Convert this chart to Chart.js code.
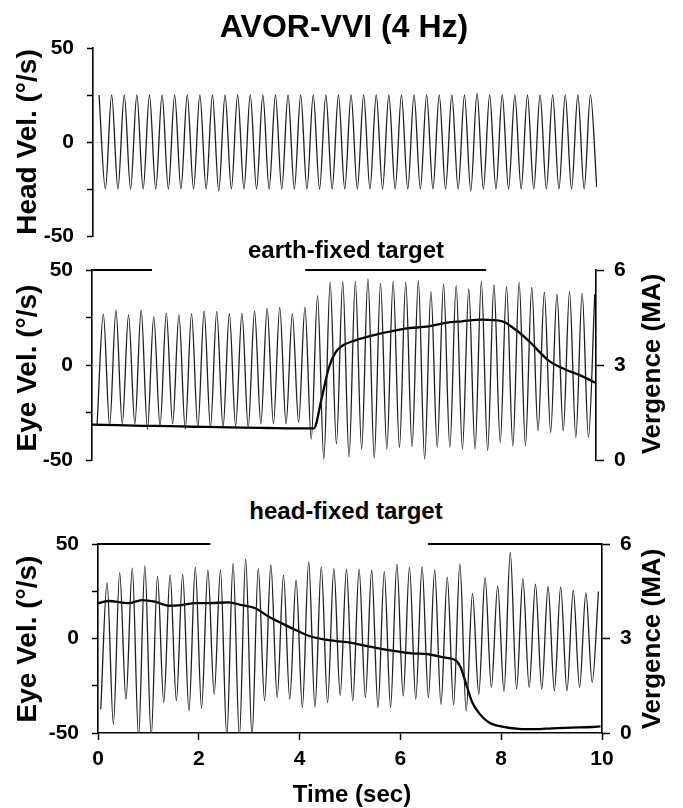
<!DOCTYPE html>
<html>
<head>
<meta charset="utf-8">
<script src="https://cdn.jsdelivr.net/npm/chart.js@4.4.1/dist/chart.umd.min.js"></script>
<style>
body { margin: 0; background: #fff; width: 683px; height: 808px; position: relative; overflow: hidden;
       font-family: "Liberation Sans", Arial, sans-serif; font-weight: bold; color: #000; }
canvas { position: absolute; left: 0; }
.lbl { position: absolute; white-space: nowrap; transform: translate(-50%, -50%); }
.rot { transform: translate(-50%, -50%) rotate(-90deg); }
</style>
</head>
<body>
<canvas id="head" width="683" height="216" style="top:34px"></canvas>
<canvas id="earth" width="683" height="218" style="top:256px"></canvas>
<canvas id="fixed" width="683" height="278" style="top:530px"></canvas>

<div class="lbl" style="left:344px;top:26px;font-size:32px">AVOR-VVI (4 Hz)</div>
<div class="lbl rot" style="left:27px;top:142px;font-size:28px">Head Vel. (°/s)</div>
<div class="lbl" style="left:346px;top:250px;font-size:24px">earth-fixed target</div>
<div class="lbl rot" style="left:27px;top:368px;font-size:28px">Eye Vel. (°/s)</div>
<div class="lbl rot" style="left:651px;top:364px;font-size:26px">Vergence (MA)</div>
<div class="lbl" style="left:346px;top:511px;font-size:24px">head-fixed target</div>
<div class="lbl rot" style="left:27px;top:639px;font-size:28px">Eye Vel. (°/s)</div>
<div class="lbl rot" style="left:651px;top:639px;font-size:26px">Vergence (MA)</div>
<div class="lbl" style="left:352px;top:794px;font-size:24px">Time (sec)</div>

<script>
// one extremum every 1/8 s (4 Hz rotation)
const halfPeriod = 0.125;

// head velocity: first peak time, then peaks / troughs (deg/s)
const headT0 = 0.12;
const headPeaks = [25, 25, 25, 25, 25, 25, 25, 25, 25, 25,
                   25, 25, 25, 25, 25, 25, 25, 25, 25, 25,
                   25, 25, 25, 25, 25, 25, 25, 25, 25, 25,
                   26, 25, 25, 25, 25, 25, 25, 25, 25, 25];
const headTroughs = [-25, -25, -25, -25, -25, -25, -25, -25, -25, -26,
                     -25, -25, -25, -25, -25, -25, -25, -25, -25, -25,
                     -25, -25, -25, -25, -25, -25, -25, -25, -25, -26,
                     -25, -25, -25, -25, -25, -25, -25, -25, -25, -24];

// earth-fixed target: eye velocity, first trough time, troughs / peaks
const earthT0 = 0.1;
const earthTroughs = [-32, -32, -31, -31, -33.8, -32, -31, -33.8, -33, -33,
                      -33, -32, -33, -31, -31, -31, -30.3, -39, -49.5, -41.6,
                      -48.4, -44.2, -49, -44.2, -43.4, -43, -49.5, -43.4, -43.4, -44.2,
                      -44.2, -45, -40.8, -42.5, -42.5, -34.6, -35.5, -34.6, -38.1, -38.1];
const earthPeaks = [26.8, 28.9, 26.4, 29, 25.5, 27.3, 26.4, 27, 28.5, 28.2,
                    27.1, 27.3, 28.5, 29.9, 30.3, 27, 30.5, 36.4, 43.5, 43.9,
                    43.9, 45.3, 43, 43.9, 43.5, 44.2, 38.6, 42.5, 41.8, 40,
                    43.9, 42.1, 41.3, 43.5, 40.8, 38.3, 37.3, 38.6, 37.8, 37.3];
const earthVergTime = [0, 0.5, 1, 1.5, 2, 2.5, 3, 3.5, 4, 4.4, 4.56, 4.7, 4.83, 4.96, 5.21,
                       5.69, 6.22, 6.68, 7.01, 7.34, 7.74, 8.14, 8.4, 8.66, 9.06, 9.39, 9.72, 9.92, 9.99];
const earthVerg = [1.12, 1.1, 1.08, 1.07, 1.05, 1.04, 1.02, 1.01, 1.0, 1.0, 1.97, 2.92, 3.39, 3.6, 3.77,
                   3.98, 4.15, 4.22, 4.33, 4.38, 4.43, 4.38, 4.12, 3.77, 3.14, 2.86, 2.65, 2.49, 2.44];
const earthBars = [[0, 1.19], [4.23, 7.82]];

// head-fixed target (-52 = saccade running off scale)
const fixedT0 = 0.055;
const fixedTroughs = [-37.4, -45.3, -32.1, -52, -52, -33.9, -32.9, -38.3, -36.9, -29.5,
                      -52, -52, -52, -32.9, -31.2, -32.1, -36.5, -36.2, -33.9, -30,
                      -33, -31.2, -36.5, -36.5, -30.4, -32.1, -31.2, -34.8, -35, -38.3,
                      -29.5, -25.9, -28, -26.8, -25.9, -26.8, -27.7, -27.7, -25.9, -23.3];
const fixedPeaks = [29.6, 34.9, 37.2, 38.4, 32.8, 33.7, 33.9, 37.6, 36.3, 36.3,
                    39.7, 42, 37, 38.9, 33.5, 31, 40.5, 37.9, 37, 36.7,
                    36.7, 36.1, 35.4, 39.3, 37.6, 37.9, 36.1, 32.3, 39.3, 23.8,
                    32.3, 27.8, 45.5, 31.7, 28.7, 27.5, 27.3, 25.6, 24.3, 24.9];
const fixedVergTime = [0, 0.21, 0.61, 0.87, 1.13, 1.4, 1.66, 1.93, 2.19, 2.59, 2.85, 3.12, 3.39, 3.65,
                       3.92, 4.19, 4.45, 4.72, 5.0, 5.24, 5.57, 5.9, 6.23, 6.56, 6.89, 7.09, 7.19, 7.29,
                       7.42, 7.56, 7.75, 8.02, 8.35, 8.68, 9.01, 9.41, 9.8, 9.97];
const fixedVerg = [4.12, 4.19, 4.12, 4.22, 4.17, 4.04, 4.06, 4.12, 4.12, 4.15, 4.06, 3.96, 3.69, 3.48,
                   3.27, 3.08, 2.98, 2.92, 2.87, 2.79, 2.69, 2.6, 2.53, 2.5, 2.39, 2.32, 2.1, 1.63,
                   0.99, 0.63, 0.34, 0.2, 0.13, 0.12, 0.15, 0.17, 0.19, 0.21];
const fixedBars = [[0, 2.23], [6.55, 10]];

const eyeTicks = [-50, 0, 50];
const vergTicks = [0, 3, 6];
const timeTicks = [0, 2, 4, 6, 8, 10];

function wave(t0, first, second) {
    const pts = [];
    first.forEach((v, i) => {
        pts.push({x: t0 + 2 * i * halfPeriod, y: v});
        if (i < second.length) pts.push({x: t0 + (2 * i + 1) * halfPeriod, y: second[i]});
    });
    return pts;
}

function pairs(xs, ys) {
    return xs.map((x, i) => ({x: x, y: ys[i]}));
}

const tickFont = {family: '"Liberation Sans", Arial, sans-serif', size: 21, weight: 'bold'};

function traceSet(points) {
    return {data: points, borderColor: '#1e1e1e', borderWidth: 1.3, pointRadius: 0,
            cubicInterpolationMode: 'monotone', yAxisID: 'y'};
}

function vergSet(points) {
    return {data: points, borderColor: '#000', borderWidth: 2.3, pointRadius: 0,
            cubicInterpolationMode: 'monotone', yAxisID: 'y2'};
}

function barSets(bars) {
    return bars.map(b => ({data: [{x: b[0], y: 50}, {x: b[1], y: 50}], borderColor: '#000',
                           borderWidth: 2, pointRadius: 0, clip: false, yAxisID: 'y'}));
}

// fixed width, and no extra room above/below for the end labels
function pinWidth(w) {
    return s => { s.width = w; s.paddingTop = 0; s.paddingBottom = 0; };
}

function eyeAxis(leftW) {
    return {
        type: 'linear', position: 'left', min: -50, max: 50,
        afterFit: pinWidth(leftW),
        ticks: {stepSize: 25, color: '#000', font: tickFont, padding: 13,
                callback: v => (eyeTicks.includes(v) ? v : '')},
        grid: {color: c => (c.tick && c.tick.value === 0 ? '#999' : 'rgba(0,0,0,0)'),
               tickColor: '#000', tickLength: 6, tickWidth: 1.5, lineWidth: 1},
        border: {color: '#000', width: 1.6, dash: [1, 2]}
    };
}

function vergAxis(rightW) {
    return {
        type: 'linear', position: 'right', min: 0, max: 6,
        afterFit: pinWidth(rightW),
        ticks: {stepSize: 3, color: '#000', font: tickFont, padding: 10,
                callback: v => (vergTicks.includes(v) ? v : '')},
        grid: {drawOnChartArea: false, color: '#000', tickColor: '#000', tickLength: 8, tickWidth: 1.5},
        border: {color: '#000', width: 1.6}
    };
}

function timeAxis(show) {
    const axis = {
        type: 'linear', min: 0, max: 10, display: show,
        ticks: {stepSize: 2, color: '#000', font: tickFont, padding: 7,
                callback: v => (timeTicks.includes(v) ? v : '')},
        grid: {drawOnChartArea: false, color: '#000', tickColor: '#000', tickLength: 7, tickWidth: 1.5},
        border: {color: '#000', width: 1.6}
    };
    if (show) axis.afterFit = s => { s.height = 75; };
    return axis;
}

const base = {
    responsive: false,
    animation: false,
    events: [],
    plugins: {legend: {display: false}, tooltip: {enabled: false}}
};

new Chart(document.getElementById('head'), {
    type: 'line',
    data: {datasets: [traceSet(wave(headT0, headPeaks, headTroughs))]},
    options: Object.assign({}, base, {
        layout: {padding: {top: 14, bottom: 14, right: 86, left: 0}},
        scales: {x: timeAxis(false), y: eyeAxis(93)}
    })
});

new Chart(document.getElementById('earth'), {
    type: 'line',
    data: {datasets: [traceSet(wave(earthT0, earthTroughs, earthPeaks)),
                      vergSet(pairs(earthVergTime, earthVerg))].concat(barSets(earthBars))},
    options: Object.assign({}, base, {
        layout: {padding: {top: 14, bottom: 14, right: 0, left: 0}},
        scales: {x: timeAxis(false), y: eyeAxis(92), y2: vergAxis(87)}
    })
});

new Chart(document.getElementById('fixed'), {
    type: 'line',
    data: {datasets: [traceSet(wave(fixedT0, fixedTroughs, fixedPeaks)),
                      vergSet(pairs(fixedVergTime, fixedVerg))].concat(barSets(fixedBars))},
    options: Object.assign({}, base, {
        layout: {padding: {top: 14, bottom: 0, right: 0, left: 0}},
        scales: {x: timeAxis(true), y: eyeAxis(98), y2: vergAxis(81)}
    })
});
</script>
</body>
</html>
